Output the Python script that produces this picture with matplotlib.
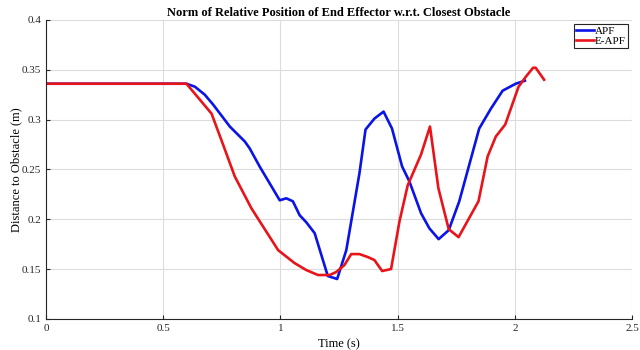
import numpy as np
import matplotlib
matplotlib.use('Agg')
import matplotlib.pyplot as plt

plt.rcParams['font.family'] = ['Liberation Serif', 'DejaVu Serif']

# APF trajectory (time s, distance m)
apf_t = [0.0, 0.599, 0.635, 0.677, 0.713, 0.784, 0.848, 0.869, 0.911, 0.997, 1.025,
         1.053, 1.082, 1.110, 1.146, 1.202, 1.242, 1.281, 1.337, 1.363, 1.401, 1.440,
         1.476, 1.519, 1.550, 1.600, 1.635, 1.675, 1.718, 1.763, 1.806, 1.848, 1.898,
         1.948, 2.004, 2.043]
apf_d = [0.336, 0.336, 0.333, 0.325, 0.315, 0.293, 0.278, 0.271, 0.253, 0.219, 0.221,
         0.218, 0.204, 0.197, 0.186, 0.143, 0.140, 0.169, 0.246, 0.290, 0.301, 0.308,
         0.291, 0.253, 0.238, 0.206, 0.191, 0.180, 0.189, 0.218, 0.255, 0.291, 0.311,
         0.329, 0.336, 0.339]

# E-APF trajectory
eapf_t = [0.0, 0.599, 0.706, 0.755, 0.805, 0.876, 0.990, 1.060, 1.110, 1.160, 1.210,
          1.238, 1.273, 1.302, 1.337, 1.373, 1.401, 1.434, 1.472, 1.508, 1.543, 1.600,
          1.638, 1.674, 1.718, 1.760, 1.845, 1.884, 1.919, 1.959, 2.016, 2.047, 2.078,
          2.089, 2.125]
eapf_d = [0.336, 0.336, 0.306, 0.275, 0.243, 0.211, 0.169, 0.156, 0.149, 0.144, 0.144,
          0.147, 0.154, 0.165, 0.165, 0.162, 0.159, 0.148, 0.150, 0.198, 0.234, 0.265,
          0.293, 0.231, 0.190, 0.182, 0.218, 0.263, 0.283, 0.295, 0.333, 0.343, 0.352,
          0.352, 0.340]

fig = plt.figure(figsize=(6.4, 3.5), dpi=100)
ax = fig.add_axes([0.072, 0.089, 0.9155, 0.854])

ax.plot(apf_t, apf_d, color='#0A14E6', lw=1.9, label='APF')
ax.plot(eapf_t, eapf_d, color='#E8141A', lw=1.9, label='E-APF')

ax.set_xlim(0, 2.5)
ax.set_ylim(0.1, 0.4)
ax.set_xticks([0, 0.5, 1, 1.5, 2, 2.5])
ax.set_xticklabels(['0', '0.5', '1', '1.5', '2', '2.5'])
ax.set_yticks([0.1, 0.15, 0.2, 0.25, 0.3, 0.35, 0.4])
ax.set_yticklabels(['0.1', '0.15', '0.2', '0.25', '0.3', '0.35', '0.4'])
ax.tick_params(direction='in', length=3, labelsize=8, colors='#262626', top=False, right=False)
ax.grid(True, color='#DCDCDC', lw=0.8)
for s in ax.spines.values():
    s.set_color('#262626'); s.set_linewidth(0.8)
ax.spines['top'].set_visible(False)
ax.spines['right'].set_visible(False)

ax.set_xlabel('Time (s)', fontsize=9, labelpad=4)
ax.set_ylabel('Distance to Obstacle (m)', fontsize=9, labelpad=0)
ax.set_title('Norm of Relative Position of End Effector w.r.t. Closest Obstacle',
             fontsize=9, fontweight='bold', pad=3)

leg = ax.legend(loc='upper right', fontsize=8, handlelength=1.6, handletextpad=0.1,
                borderpad=0.2, labelspacing=0.05, fancybox=False, framealpha=1,
                borderaxespad=0.35)
leg.get_frame().set_edgecolor('#262626')
leg.get_frame().set_linewidth(0.8)

fig.savefig('out.png', dpi=100)
